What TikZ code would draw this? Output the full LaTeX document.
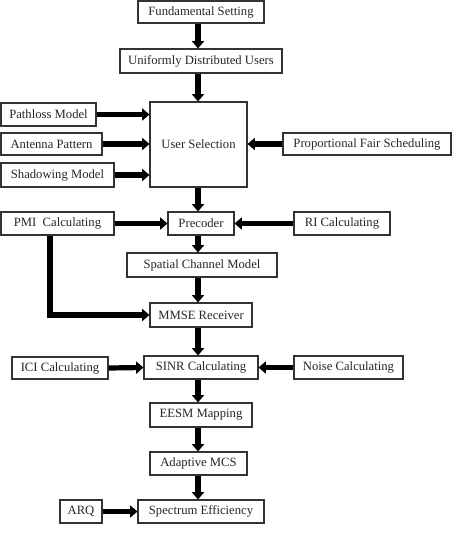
\documentclass[tikz,border=0pt]{standalone}
\usepackage{fontspec}
\setmainfont{Liberation Serif}
\usetikzlibrary{arrows.meta}
\begin{document}
\begin{tikzpicture}[x=0.75pt,y=-0.75pt,
  box/.style={draw=black!80,line width=0.8pt,fill=white,inner sep=0pt,
    text=black!85,font=\fontsize{9.5}{11}\selectfont},
  arr/.style={line width=3.9pt,draw=black,-{Triangle[width=9pt,length=5.5pt]}},
  thick line/.style={line width=3.9pt,draw=black}]
\useasboundingbox (0,0) rectangle (455,545);
% helper: node from box corners
\def\bx#1#2#3#4#5#6{\node[box,minimum width={(#3-#2)*0.75pt},minimum height={(#5-#4)*0.75pt}] (#1) at ({(#2+#3)/2},{(#4+#5)/2}) {#6};}
\bx{fs}{138}{264}{1}{23}{Fundamental Setting}
\bx{udu}{120}{282}{49}{73}{Uniformly Distributed Users}
\bx{us}{150}{247}{102}{187}{User Selection}
\bx{pm}{1}{96}{103}{126}{Pathloss Model}
\bx{ap}{1}{102}{133}{155}{Antenna Pattern}
\bx{sm}{1}{114}{163}{187}{Shadowing Model}
\bx{pfs}{283}{451}{133}{155}{Proportional Fair Scheduling}
\bx{pre}{168}{234}{212}{235}{Precoder}
\bx{pmi}{1}{114}{212}{235}{PMI\ \ Calculating}
\bx{ri}{294}{390}{212}{235}{RI Calculating}
\bx{scm}{127}{277}{253}{277}{Spatial Channel Model}
\bx{mmse}{150}{252}{303}{327}{MMSE Receiver}
\bx{sinr}{144}{258}{356}{379}{SINR Calculating}
\bx{ici}{12}{108}{357}{379}{ICI Calculating}
\bx{noise}{294}{403}{356}{379}{Noise Calculating}
\bx{eesm}{150}{252}{403}{427}{EESM Mapping}
\bx{amcs}{150}{247}{452}{475}{Adaptive MCS}
\bx{se}{138}{264}{500}{523}{Spectrum Efficiency}
\bx{arq}{60}{102}{500}{523}{ARQ}
\coordinate (ax) at (198,0);
\coordinate (px) at (50,0);
% vertical chain
\draw[arr] (fs.south -| ax) -- (udu.north -| ax);
\draw[arr] (udu.south -| ax) -- (us.north -| ax);
\draw[arr] (us.south -| ax) -- (pre.north -| ax);
\draw[arr] (pre.south -| ax) -- (scm.north -| ax);
\draw[arr] (scm.south -| ax) -- (mmse.north -| ax);
\draw[arr] (mmse.south -| ax) -- (sinr.north -| ax);
\draw[arr] (sinr.south -| ax) -- (eesm.north -| ax);
\draw[arr] (eesm.south -| ax) -- (amcs.north -| ax);
\draw[arr] (amcs.south -| ax) -- (se.north -| ax);
% side inputs
\draw[arr] (pm.east) -- (pm.east -| us.west);
\draw[arr] (ap.east) -- (ap.east -| us.west);
\draw[arr] (sm.east) -- (sm.east -| us.west);
\draw[arr] (pfs.west) -- (pfs.west -| us.east);
\draw[arr] (pmi.east) -- (pre.west);
\draw[arr] (ri.west) -- (pre.east);
\draw[arr] (ici.east) -- (sinr.west);
\draw[arr] (noise.west) -- (sinr.east);
\draw[arr] (arq.east) -- (se.west);
\draw[arr] (pmi.south -| px) -- (px |- mmse.west) -- (mmse.west);
\end{tikzpicture}
\end{document}
